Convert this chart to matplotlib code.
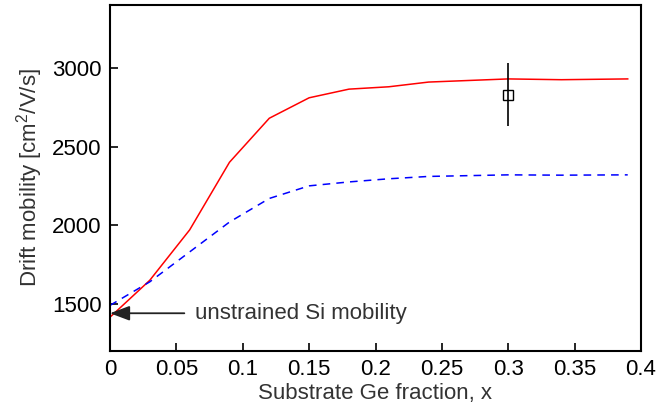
import matplotlib
matplotlib.use("Agg")
import matplotlib.pyplot as plt
import numpy as np

plt.rcParams['font.family'] = ['Liberation Sans', 'DejaVu Sans']
plt.rcParams['mathtext.fontset'] = 'custom'
plt.rcParams['mathtext.rm'] = 'Liberation Sans'

# strained (red) and unstrained-model (blue dashed) curves
ge_frac = [0.0, 0.03, 0.06, 0.09, 0.12, 0.15, 0.18, 0.21, 0.24, 0.27, 0.30, 0.34, 0.39]
mob_red = [1415, 1650, 1970, 2400, 2680, 2810, 2865, 2880, 2910, 2920, 2930, 2925, 2930]
mob_blue = [1490, 1640, 1830, 2020, 2170, 2250, 2275, 2295, 2310, 2315, 2320, 2318, 2320]

# measured point
meas_x = [0.30]
meas_y = [2830]
meas_err = [200]

si_mobility = 1440

fig = plt.figure(figsize=(6.58, 4.18), dpi=100)
ax = fig.add_axes([110/658, 67/418, 531/658, 346/418])

ax.plot(ge_frac, mob_red, color='red', lw=1.1)
ax.plot(ge_frac, mob_blue, color='blue', lw=1.1, ls=(0, (5, 4)))
ax.errorbar(meas_x, meas_y, yerr=meas_err, fmt='s', mfc='none', mec='black',
            ecolor='black', ms=7, mew=1.0, elinewidth=1.2, capsize=0)

ax.annotate('', xy=(0.0, si_mobility), xytext=(0.056, si_mobility),
            arrowprops=dict(arrowstyle='-|>,head_length=1.2,head_width=0.45',
                            color='#222222', lw=1.3, shrinkA=0, shrinkB=0))
ax.text(0.064, si_mobility, 'unstrained Si mobility', fontsize=16,
        color='#333333', va='center', ha='left')

ax.set_xlim(0, 0.4)
ax.set_ylim(1200, 3400)
ax.set_xticks([0, 0.05, 0.1, 0.15, 0.2, 0.25, 0.3, 0.35, 0.4])
ax.set_xticklabels(['0', '0.05', '0.1', '0.15', '0.2', '0.25', '0.3', '0.35', '0.4'])
ax.set_yticks([1500, 2000, 2500, 3000])
ax.tick_params(direction='in', length=6, width=1.2, labelsize=16, pad=6)
for s in ax.spines.values():
    s.set_linewidth(1.5)

ax.set_xlabel('Substrate Ge fraction, x', fontsize=16, color='#333333', labelpad=2)
ax.set_ylabel('Drift mobility [cm$^2$/V/s]', fontsize=16, color='#333333', labelpad=5)

fig.savefig('out.png', dpi=100)
